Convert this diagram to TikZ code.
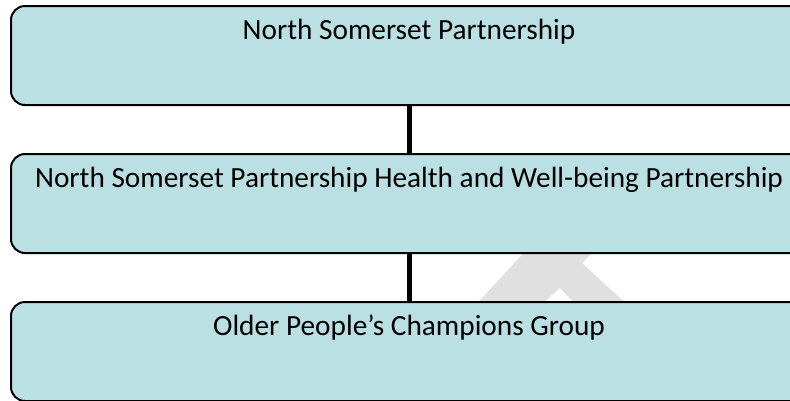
\documentclass[tikz,border=0pt]{standalone}
\usepackage{fontspec}
\setmainfont{Carlito}
\definecolor{boxfill}{RGB}{187,224,227}
\definecolor{wmark}{RGB}{224,224,224}
\begin{document}
\begin{tikzpicture}[x=1pt,y=-1pt,
  orgbox/.style={draw=black, line width=2pt, fill=boxfill, rounded corners=14pt,
    rectangle, inner xsep=0pt, inner ysep=0pt, minimum width=796pt,
    text height=33pt, text depth=66pt, font=\fontsize{29.3}{32}\selectfont, anchor=north west},
  link/.style={line width=5pt, black}]
\useasboundingbox (0,0) rectangle (790,400);
% faint watermark fragment
\fill[wmark] (471,310) -- (531,245) -- (600,245) -- (582,263) -- (633,310) -- (581,310) -- (560,288) -- (535,310) -- cycle;
\node[orgbox] (b1) at (10,5) {North Somerset Partnership};
\node[orgbox] (b2) at (10,153) {North Somerset Partnership Health and Well-being Partnership};
\node[orgbox] (b3) at (10,301) {Older People’s Champions Group};
\draw[link] (b1.south) -- (b2.north);
\draw[link] (b2.south) -- (b3.north);
\end{tikzpicture}
\end{document}
